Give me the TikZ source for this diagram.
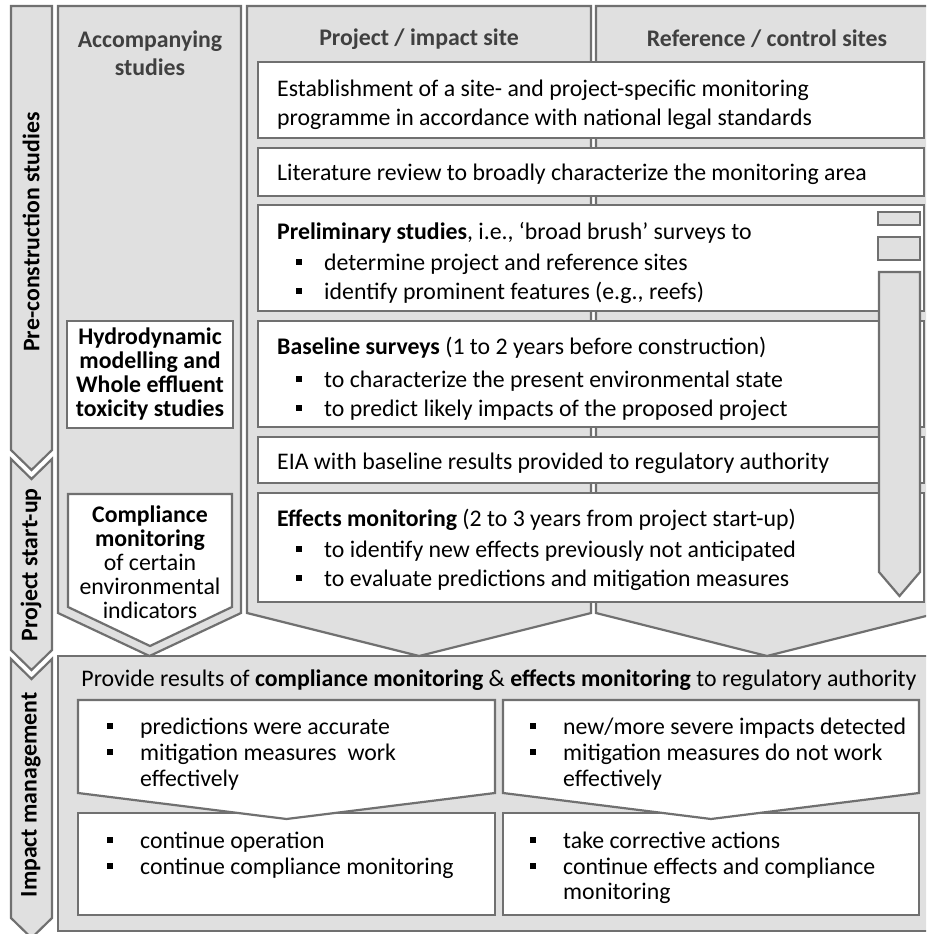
\documentclass[tikz,border=0pt]{standalone}
\usepackage{fontspec}
\setmainfont{Carlito}
\definecolor{gfill}{HTML}{E0E0E0}
\definecolor{gedge}{HTML}{707070}
\definecolor{hdrc}{HTML}{404040}
\newcommand\myfs{\fontsize{23.8}{24}\selectfont}
\begin{document}
\begin{tikzpicture}[x=1pt,y=-1pt,
  shp/.style={fill=gfill, draw=gedge, line width=2.2pt, line join=miter},
  wbox/.style={fill=white, draw=gedge, line width=2.2pt, line join=miter},
  txt/.style={anchor=mid west, inner sep=0pt, font=\myfs, yshift=-6pt},
  ctr/.style={inner sep=0pt, font=\myfs, align=center},
  hdr/.style={inner sep=0pt, font=\myfs\bfseries, text=hdrc},
  phase/.style={inner sep=0pt, font=\myfs\bfseries, rotate=90},
  bul/.style={fill=black, minimum size=6pt, inner sep=0pt, rectangle}]
\useasboundingbox (0,0) rectangle (926,934);
\clip (0,0) rectangle (926,934);
% phase arrows
\draw[shp] (11,6) -- (52,6) -- (52,450) -- (31.5,470) -- (11,450) -- cycle;
\draw[shp] (11,459) -- (31.5,479) -- (52,459) -- (52,650) -- (31.5,670) -- (11,650) -- cycle;
\draw[shp] (11,659) -- (31.5,679) -- (52,659) -- (52,918) -- (31.5,938) -- (11,918) -- cycle;
\node[phase] (ph1) at (31,232) {Pre-construction studies};
\node[phase] (ph2) at (31,565) {Project start-up};
\node[phase] (ph3) at (31,795) {Impact management};
% bottom area
\draw[shp] (58,656) rectangle (940,931);
% columns
\draw[shp] (58,6) -- (241,6) -- (241,613) -- (149.5,656) -- (58,613) -- cycle;
\draw[shp] (247,6) -- (591,6) -- (591,613) -- (419,656) -- (247,613) -- cycle;
\draw[shp] (596,6) -- (938,6) -- (938,613) -- (767,656) -- (596,613) -- cycle;
\node[hdr, align=center] (h1) at (150,53) {Accompanying\\[4pt]studies};
\node[hdr] (h2) at (419,39) {Project / impact site};
\node[hdr] (h3) at (767,39) {Reference / control sites};
% white boxes
\draw[wbox] (258,62) rectangle (924,138);
\draw[wbox] (258,148) rectangle (924,196);
\draw[wbox] (258,205) rectangle (924,311);
\draw[wbox] (258,321) rectangle (924,427);
\draw[wbox] (258,437) rectangle (924,483);
\draw[wbox] (258,493) rectangle (924,602);
% box texts
\node[txt] (t1a) at (277,88) {Establishment of a site- and project-specific monitoring};
\node[txt] (t1b) at (277,117) {programme in accordance with national legal standards};
\node[txt] (t2) at (277,172) {Literature review to broadly characterize the monitoring area};
\node[txt] (t3) at (277,231) {\textbf{Preliminary studies}, i.e., ‘broad brush’ surveys to};
\node[bul] (b3a) at (299,262) {};
\node[txt] (t3a) at (324,262) {determine project and reference sites};
\node[bul] (b3b) at (299,291) {};
\node[txt] (t3b) at (324,291) {identify prominent features (e.g., reefs)};
\node[txt] (t4) at (277,346) {\textbf{Baseline surveys} (1 to 2 years before construction)};
\node[bul] (b4a) at (299,379) {};
\node[txt] (t4a) at (324,379) {to characterize the present environmental state};
\node[bul] (b4b) at (299,408) {};
\node[txt] (t4b) at (324,408) {to predict likely impacts of the proposed project};
\node[txt] (t5) at (277,461) {EIA with baseline results provided to regulatory authority};
\node[txt] (t6) at (277,518) {\textbf{Effects monitoring} (2 to 3 years from project start-up)};
\node[bul] (b6a) at (299,549) {};
\node[txt] (t6a) at (324,549) {to identify new effects previously not anticipated};
\node[bul] (b6b) at (299,578) {};
\node[txt] (t6b) at (324,578) {to evaluate predictions and mitigation measures};
% right-side small arrow
\draw[shp] (878,212) rectangle (920,225);
\draw[shp] (878,237) rectangle (920,260);
\draw[shp] (879,272) -- (920,272) -- (920,572) -- (899.5,596) -- (879,572) -- cycle;
% accompanying boxes
\draw[wbox] (67,321) rectangle (233,428);
\node[ctr, font=\myfs\bfseries] (hyd) at (150,374) {Hydrodynamic\\modelling and\\Whole effluent\\toxicity studies};
\draw[wbox] (68,494) -- (232,494) -- (232,607) -- (150,646) -- (68,607) -- cycle;
\node[ctr] (comp) at (150,562) {\textbf{Compliance}\\\textbf{monitoring}\\of certain\\environmental\\indicators};
% bottom section
\node[ctr] (prov) at (499,680) {Provide results of \textbf{compliance monitoring} \& \textbf{effects monitoring} to regulatory authority};
\draw[wbox] (78,813) rectangle (495,915);
\draw[wbox] (503,813) rectangle (919,915);
\draw[wbox] (78,700) -- (495,700) -- (495,793) -- (286.5,819) -- (78,793) -- cycle;
\draw[wbox] (503,700) -- (919,700) -- (919,793) -- (711,819) -- (503,793) -- cycle;
\node[bul] (bla) at (110,726) {};
\node[txt] (tla) at (140,726) {predictions were accurate};
\node[bul] (blb) at (110,752) {};
\node[txt] (tlb) at (140,752) {mitigation measures\ \ work};
\node[txt] (tlc) at (140,778) {effectively};
\node[bul] (bra) at (533,726) {};
\node[txt] (tra) at (563,726) {new/more severe impacts detected};
\node[bul] (brb) at (533,752) {};
\node[txt] (trb) at (563,752) {mitigation measures do not work};
\node[txt] (trc) at (563,778) {effectively};
\node[bul] (bld) at (110,840) {};
\node[txt] (tld) at (140,840) {continue operation};
\node[bul] (ble) at (110,866) {};
\node[txt] (tle) at (140,866) {continue compliance monitoring};
\node[bul] (brd) at (533,840) {};
\node[txt] (trd) at (563,840) {take corrective actions};
\node[bul] (bre) at (533,866) {};
\node[txt] (tre) at (563,866) {continue effects and compliance};
\node[txt] (trf) at (563,891) {monitoring};
\end{tikzpicture}
\end{document}
